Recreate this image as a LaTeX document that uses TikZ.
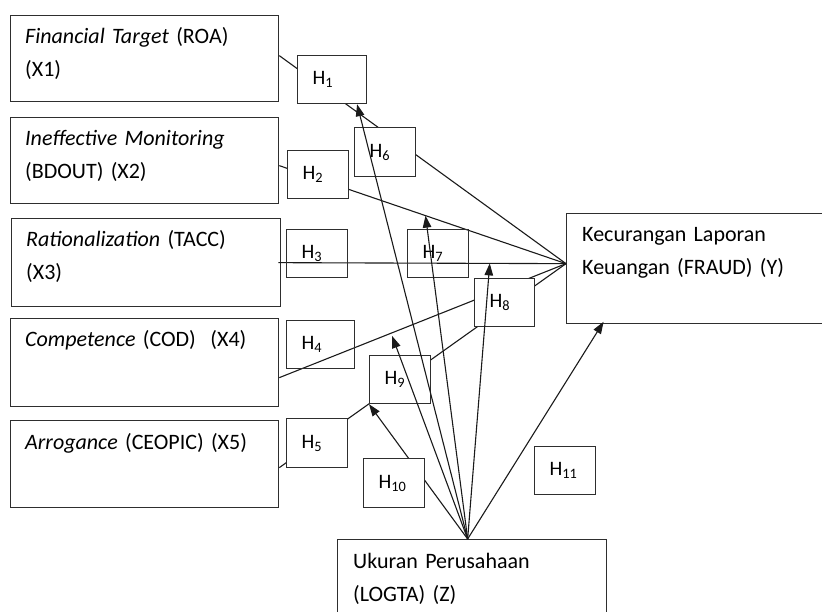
\documentclass[tikz,border=0pt]{standalone}
\usepackage{fontspec}
\setmainfont{Carlito}
\usepackage{tikz}
\usetikzlibrary{calc,arrows.meta}
\definecolor{ink}{HTML}{1A1A1A}
\definecolor{frame}{HTML}{2E2E2E}
\newcommand{\txtfont}{\fontsize{22}{33}\selectfont}
\newcommand{\hypfont}{\fontsize{20.5}{24}\selectfont}
\tikzset{
  var/.style={draw=frame, line width=1.3pt, anchor=north west, minimum width=268pt, minimum height=86pt, inner sep=0pt},
  lab/.style={anchor=base west, text=black, text width=250pt, align=left, inner sep=0pt, font=\txtfont},
  hyp/.style={draw=frame, line width=1.2pt, fill=white, anchor=north west, minimum height=48pt, inner xsep=15pt, inner ysep=0pt, text width=#1, align=left, text=black, font=\hypfont},
  hyp/.default=31pt,
  link/.style={draw=ink, line width=1.1pt},
  eff/.style={draw=ink, line width=1.1pt, -{Triangle[length=12pt,width=8.5pt]}},
}

\begin{document}
\begin{tikzpicture}[x=1pt,y=-1pt]
  \useasboundingbox (0,0) rectangle (822,612);
  \clip (0,0) rectangle (822,612);
  % variable boxes
  \node[var] (x1) at (10,15) {};
  \node[var] (x2) at (10,117) {};
  \node[var, minimum width=269pt, minimum height=88pt] (x3) at (11,218) {};
  \node[var, minimum height=88pt] (x4) at (10,318) {};
  \node[var, minimum height=87pt] (x5) at (10,420) {};
  \node[var, minimum width=280pt, minimum height=110pt] (fraud) at (566,213) {};
  \node[var, minimum width=269pt] (size) at (337,539) {};
  \node[lab] (x1t) at ([shift={(15pt,-29pt)}]x1.north west) {\textit{Financial Target} (ROA)\\(X1)};
  \node[lab] (x2t) at ([shift={(15pt,-29pt)}]x2.north west) {\textit{Ineffective Monitoring}\\(BDOUT) (X2)};
  \node[lab] (x3t) at ([shift={(15pt,-29pt)}]x3.north west) {\textit{Rationalization} (TACC)\\(X3)};
  \node[lab] (x4t) at ([shift={(15pt,-29pt)}]x4.north west) {\textit{Competence} (COD)~~(X4)};
  \node[lab] (x5t) at ([shift={(15pt,-29pt)}]x5.north west) {\textit{Arrogance} (CEOPIC) (X5)};
  \node[lab] (fraudt) at ([shift={(16pt,-29pt)}]fraud.north west) {Kecurangan Laporan\\Keuangan (FRAUD) (Y)};
  \node[lab] (sizet) at ([shift={(16pt,-29pt)}]size.north west) {Ukuran Perusahaan\\(LOGTA) (Z)};

  % direct paths
  \coordinate (fin) at ([yshift=5pt]fraud.west);
  \draw[link] ([yshift=3pt]x1.east) -- (fin);
  \draw[link] ([yshift=-5pt]x2.east) -- coordinate[pos=0.51] (on2) (fin);
  \draw[link] ([xshift=-3pt]x3.east) -- coordinate[pos=0.735] (on3) (fin);
  \draw[link] ([yshift=-15pt]x4.east) -- coordinate[pos=0.39] (on4) (fin);
  \draw[link] ([yshift=-3.5pt]x5.east) -- (fin);

  % hypotheses
  \node[hyp=39pt] (h1) at (297,55) {H\textsubscript{1}};
  \node[hyp] (h2) at (287,150) {H\textsubscript{2}};
  \node[hyp, fill=none] (h3) at (286,229) {H\textsubscript{3}};
  \node[hyp=38pt, fill=none] (h4) at (286,320) {H\textsubscript{4}};
  \node[hyp, minimum height=49pt] (h5) at (286,418) {H\textsubscript{5}};
  \node[hyp, minimum height=49pt] (h6) at (354,127) {H\textsubscript{6}};
  \node[hyp, fill=none] (h7) at (407,229) {H\textsubscript{7}};
  \node[hyp=30pt] (h8) at (474,278) {H\textsubscript{8}};
  \node[hyp] (h9) at (369,355) {H\textsubscript{9}};

  % moderating paths
  \coordinate (zout) at ([xshift=-4.5pt]size.north);
  \draw[eff] (zout) -- ([xshift=25pt]h1.south);
  \draw[eff] (zout) -- (on2);
  \draw[eff] (zout) -- (on3);
  \draw[eff, shorten >=3pt] (zout) -- (on4);
  \draw[eff] (zout) -- (h9.south west);
  \draw[eff, shorten >=-3pt] (zout) -- ([xshift=36pt]fraud.south west);

  \node[hyp, minimum height=49pt] (h10) at (363,458) {H\textsubscript{10}};
  \node[hyp] (h11) at (534,446) {H\textsubscript{11}};
\end{tikzpicture}
\end{document}
